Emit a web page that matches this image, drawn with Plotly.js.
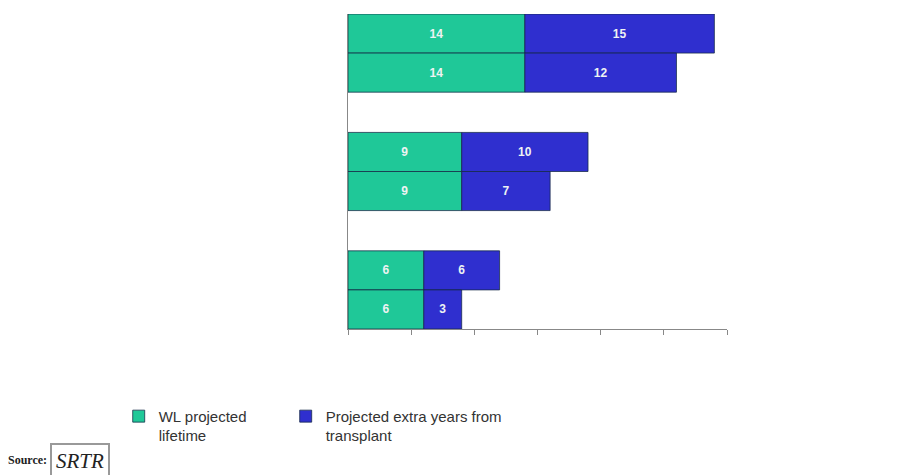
<!DOCTYPE html>
<html>
<head>
<meta charset="utf-8">
<script src="https://cdn.plot.ly/plotly-3.0.1.min.js"></script>
<style>html,body{margin:0;padding:0;background:#fff;}#chart{width:918px;height:475px;}</style>
</head>
<body>
<div id="chart"></div>
<script>
var groups = ["Group A", "Group B", "Group C"];
var wlTop = [14, 9, 6];
var extraTop = [15, 10, 6];
var wlBottom = [14, 9, 6];
var extraBottom = [12, 7, 3];
var seriesNames = ["WL projected<br>lifetime", "Projected extra years from<br>transplant"];

var green = "#1fc898";
var blue = "#2f2fcf";
var edge = "rgba(20,40,70,0.75)";
var txt = {color: "#eef3f3", family: "Liberation Sans, Arial, sans-serif", size: 12, weight: "bold"};

function bar(x, base, color, name, og, show, leg) {
  var t = {
    type: "bar", orientation: "h", y: groups, x: x,
    marker: {color: color, line: {color: edge, width: 1}},
    name: name, legendgroup: name, showlegend: show, offsetgroup: og, legend: leg,
    text: x.map(String), textposition: "inside", insidetextanchor: "middle",
    textfont: txt, hoverinfo: "x"
  };
  if (base) t.base = base;
  return t;
}

var data = [
  bar(wlTop, null, green, seriesNames[0], "a", true, "legend"),
  bar(extraTop, wlTop, blue, seriesNames[1], "a", true, "legend2"),
  bar(wlBottom, null, green, seriesNames[0], "b", false, "legend"),
  bar(extraBottom, wlBottom, blue, seriesNames[1], "b", false, "legend2")
];

var legFont = {size: 15, color: "#333", family: "Liberation Sans, Arial, sans-serif"};

var layout = {
  width: 918, height: 475,
  margin: {l: 348, r: 191, t: 14, b: 146},
  paper_bgcolor: "#ffffff", plot_bgcolor: "#ffffff",
  barmode: "group", bargap: 0.34, bargroupgap: 0,
  font: {family: "Liberation Sans, Arial, sans-serif", color: "#333"},
  xaxis: {range: [0, 30], dtick: 5, tick0: 0, showticklabels: false, ticks: "outside", ticklen: 5,
          tickcolor: "#888", showline: true, linecolor: "#888", linewidth: 1, showgrid: false, zeroline: false},
  yaxis: {range: [2.33, -0.33], showticklabels: false, ticks: "", showline: true, linecolor: "#888",
          linewidth: 1, showgrid: false, zeroline: false},
  showlegend: true,
  legend: {orientation: "h", x: -0.605, xanchor: "left", y: -0.225, yanchor: "top", valign: "top", font: legFont},
  legend2: {orientation: "h", x: -0.1644, xanchor: "left", y: -0.225, yanchor: "top", valign: "top", font: legFont},
  annotations: [
    {xref: "paper", yref: "paper", x: (6 - 348) / 379, y: (329 - 460) / 315, xanchor: "left", yanchor: "middle",
     text: "<b>Source:</b>", showarrow: false,
     font: {family: "Liberation Serif, Times New Roman, serif", size: 12, color: "#222"}},
    {xref: "paper", yref: "paper", x: (80 - 348) / 379, y: (329 - 461) / 315, xanchor: "center", yanchor: "middle",
     text: "<i>SRTR</i>", showarrow: false, bordercolor: "#999", borderwidth: 2, borderpad: 4,
     font: {family: "Liberation Serif, Times New Roman, serif", size: 21, color: "#222"}}
  ]
};

Plotly.newPlot("chart", data, layout, {displayModeBar: false, staticPlot: true});
</script>
</body>
</html>
